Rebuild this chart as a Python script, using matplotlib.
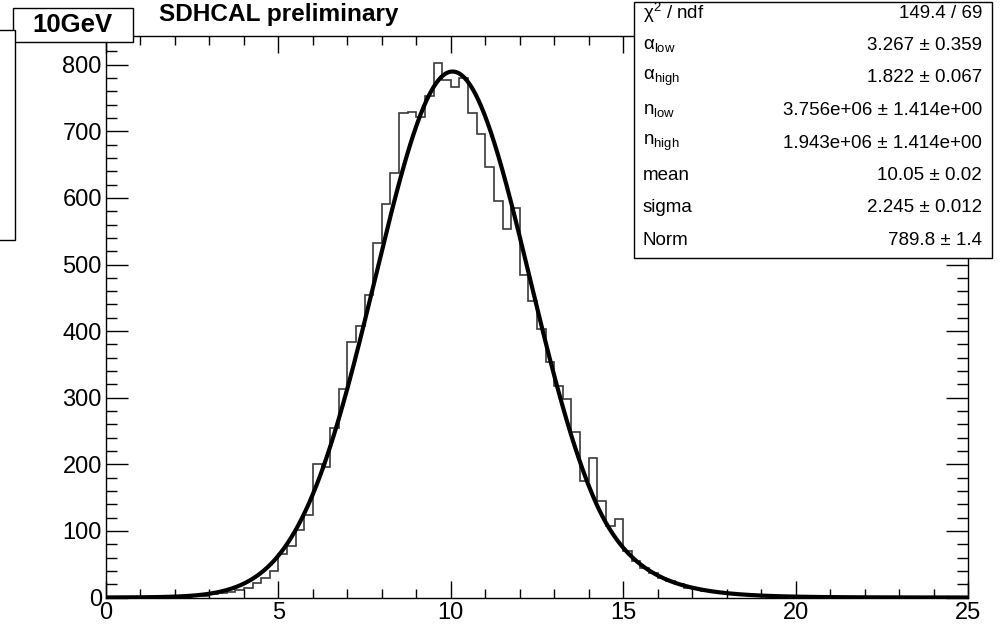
import numpy as np
import matplotlib
matplotlib.use("Agg")
import matplotlib.pyplot as plt
from matplotlib.patches import Rectangle

plt.rcParams["font.family"] = ["Liberation Sans", "DejaVu Sans"]
plt.rcParams["mathtext.fontset"] = "custom"
plt.rcParams["mathtext.rm"] = "Liberation Sans"
plt.rcParams["mathtext.it"] = "Liberation Sans:italic"
plt.rcParams["mathtext.bf"] = "Liberation Sans:bold"

# ---- histogram: 100 bins on [0, 25] ----
x_low, x_high, n_bins = 0.0, 25.0, 100
counts = [
    0, 0, 0, 0, 0, 0, 0, 0, 1, 1,
    2, 3, 5, 7, 9, 11, 14, 22, 29, 40,
    66, 77, 102, 124, 200, 196, 255, 313, 383, 408,
    454, 533, 591, 637, 727, 729, 722, 753, 803, 777,
    766, 780, 727, 696, 646, 595, 553, 585, 485, 445,
    403, 353, 318, 298, 249, 175, 210, 145, 108, 118,
    70, 55, 45, 37, 29, 25, 21, 15, 13, 10,
    8, 7, 6, 5, 4, 3, 3, 2, 2, 1,
    1, 1, 1, 0, 0, 0, 0, 0, 0, 0,
    0, 0, 0, 0, 0, 0, 0, 0, 0, 0,
]

# ---- double-sided Crystal Ball fit result ----
chi2, ndf = 149.4, 69
alpha_low, alpha_low_err = 3.267, 0.359
alpha_high, alpha_high_err = 1.822, 0.067
n_low_val = "3.756e+06"
n_high_val = "1.943e+06"
n_err = "1.414e+00"
mean, mean_err = 10.05, 0.02
sigma, sigma_err = 2.245, 0.012
norm, norm_err = 789.8, 1.4

energy_label = "10GeV"
title_text = "SDHCAL preliminary"


def crystal_ball2(x, a_lo, a_hi, mu, sig, amp):
    # tails with n -> very large reduce to exponentials
    t = (x - mu) / sig
    y = np.exp(-0.5 * t ** 2)
    lo = t < -a_lo
    hi = t > a_hi
    y[lo] = np.exp(0.5 * a_lo ** 2 + a_lo * t[lo])
    y[hi] = np.exp(0.5 * a_hi ** 2 - a_hi * t[hi])
    return amp * y


W, H = 1002, 627
fig = plt.figure(figsize=(W / 100, H / 100), dpi=100)


def fx(px):
    return px / W


def fy(py):
    return 1 - py / H


ax_l, ax_r, ax_t, ax_b = 106, 968, 36, 597.5
ax = fig.add_axes([fx(ax_l), fy(ax_b), (ax_r - ax_l) / W, (ax_b - ax_t) / H])

edges = np.linspace(x_low, x_high, n_bins + 1)
ax.stairs(counts, edges, color="#3a3a3a", lw=1.2)

xs = np.linspace(x_low, x_high, 2000)
ax.plot(xs, crystal_ball2(xs, alpha_low, alpha_high, mean, sigma, norm),
        color="black", lw=3.0, solid_capstyle="round")

ax.set_xlim(x_low, x_high)
ax.set_ylim(0, 1.05 * max(counts))
ax.set_xticks(np.arange(0, 26, 5))
ax.set_xticks(np.arange(0, 26, 1), minor=True)
ax.set_yticks(np.arange(0, 801, 100))
ax.set_yticks(np.arange(0, 841, 20), minor=True)
ax.tick_params(axis="both", which="both", direction="in", top=True, right=True,
               width=1.0, color="black", labelsize=17)
ax.tick_params(axis="x", which="major", length=12.5, pad=3)
ax.tick_params(axis="x", which="minor", length=6.5)
ax.tick_params(axis="y", which="major", length=16, pad=3)
ax.tick_params(axis="y", which="minor", length=8)
for s in ax.spines.values():
    s.set_linewidth(1.0)

# ---- stats box ----
bx0, bx1, by0, by1 = 634, 992, 2, 258
fig.add_artist(Rectangle((fx(bx0), fy(by1)), (bx1 - bx0) / W, (by1 - by0) / H,
                         transform=fig.transFigure, facecolor="white",
                         edgecolor="black", lw=1.0, zorder=5))
rows = [
    (r"$\mathrm{χ}^{2}$ / ndf", f"{chi2} / {ndf}"),
    (r"$\mathrm{α}_{\mathrm{low}}$", f"{alpha_low} ± {alpha_low_err}"),
    (r"$\mathrm{α}_{\mathrm{high}}$", f"{alpha_high} ± {alpha_high_err}"),
    (r"$\mathrm{n}_{\mathrm{low}}$", f"{n_low_val} ± {n_err}"),
    (r"$\mathrm{n}_{\mathrm{high}}$", f"{n_high_val} ± {n_err}"),
    ("mean", f"{mean:.2f} ± {mean_err:.2f}"),
    ("sigma", f"{sigma:.3f} ± {sigma_err:.3f}"),
    ("Norm", f"{norm} ± {norm_err}"),
]
row0, row_step = 13, 32.5
for i, (lab, val) in enumerate(rows):
    yy = fy(row0 + i * row_step)
    fig.text(fx(643), yy, lab, ha="left", va="center", fontsize=13.5, zorder=6)
    fig.text(fx(982), yy, val, ha="right", va="center", fontsize=13.5, zorder=6)

# ---- energy label box ----
fig.add_artist(Rectangle((fx(13), fy(42)), 120 / W, 34 / H,
                         transform=fig.transFigure, facecolor="white",
                         edgecolor="black", lw=1.0, zorder=5))
fig.text(fx(72), fy(25), energy_label, ha="center", va="center",
         fontsize=18.5, fontweight="bold", zorder=6)

# ---- partial legend box on the left edge ----
fig.add_artist(Rectangle((fx(-40), fy(240)), 55 / W, 210 / H,
                         transform=fig.transFigure, facecolor="white",
                         edgecolor="black", lw=1.0, zorder=5))

fig.text(fx(159), fy(15), title_text, ha="left", va="center",
         fontsize=17.6, fontweight="bold", zorder=6)

fig.savefig("out.png", dpi=100)
